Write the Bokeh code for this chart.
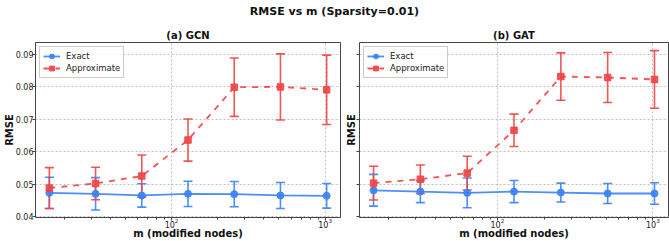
from bokeh.plotting import figure
from bokeh.layouts import column, row
from bokeh.models import (ColumnDataSource, Whisker, TeeHead, FixedTicker,
                          PrintfTickFormatter, CustomJSTickFormatter, Legend,
                          LegendItem, Range1d, Div)
from bokeh.embed import file_html
from bokeh.resources import INLINE

# Number of modified nodes
m_values = [16, 32, 64, 128, 256, 512, 1024]

# GCN results
gcn_exact_mean = [0.0473, 0.0470, 0.0465, 0.0470, 0.0469, 0.0465, 0.0464]
gcn_exact_std = [0.0048, 0.0050, 0.0036, 0.0039, 0.0039, 0.0040, 0.0038]
gcn_approx_mean = [0.0488, 0.0502, 0.0525, 0.0636, 0.0799, 0.0800, 0.0791]
gcn_approx_std = [0.0063, 0.0050, 0.0065, 0.0065, 0.0090, 0.0102, 0.0107]

# GAT results
gat_exact_mean = [0.0481, 0.0477, 0.0473, 0.0477, 0.0474, 0.0471, 0.0471]
gat_exact_std = [0.0049, 0.0034, 0.0046, 0.0034, 0.0029, 0.0031, 0.0033]
gat_approx_mean = [0.0503, 0.0515, 0.0534, 0.0666, 0.0832, 0.0829, 0.0823]
gat_approx_std = [0.0052, 0.0044, 0.0052, 0.0050, 0.0073, 0.0077, 0.0089]

y_ticks = [0.04, 0.05, 0.06, 0.07, 0.08, 0.09]
x_ticks = [100, 1000]
x_minor = [20, 30, 40, 50, 60, 70, 80, 90, 200, 300, 400, 500, 600, 700, 800, 900]

BLUE = "#3b82f6"
RED = "#ef4444"
FONT = "DejaVu Sans"


def make_panel(title, exact_mean, exact_std, approx_mean, approx_std,
               width, border_left, border_right, show_labels):
    p = figure(width=width, height=215, x_axis_type="log",
               x_range=Range1d(13.0, 1260.0), y_range=Range1d(0.0397, 0.0937),
               output_backend="svg", toolbar_location=None,
               min_border_left=border_left, min_border_right=border_right,
               min_border_top=0, min_border_bottom=0)
    p.title.text = title
    p.title.align = "center"
    p.title.text_font = FONT
    p.title.text_font_size = "10px"
    p.title.text_font_style = "bold"
    p.title.text_color = "#111111"
    p.title.standoff = 3

    p.outline_line_color = "#444444"
    p.outline_line_width = 1

    for ax in (p.xaxis[0], p.yaxis[0]):
        ax.axis_line_color = None
        ax.major_tick_line_color = "#444444"
        ax.minor_tick_line_color = "#444444"
        ax.major_tick_in = 0
        ax.major_tick_out = 3
        ax.minor_tick_in = 0
        ax.major_label_text_font = FONT
        ax.major_label_text_font_size = "8px"
        ax.major_label_text_color = "#222222"
        ax.axis_label_text_font = FONT
        ax.axis_label_text_font_size = "10px"
        ax.axis_label_text_font_style = "bold"
        ax.axis_label_text_color = "#111111"

    p.xaxis.ticker = FixedTicker(ticks=x_ticks, minor_ticks=x_minor)
    p.xaxis.minor_tick_out = 2
    p.xaxis.axis_label = "m (modified nodes)"
    p.xaxis.axis_label_standoff = -3
    p.xaxis.major_label_standoff = -3

    p.yaxis.ticker = FixedTicker(ticks=y_ticks, minor_ticks=[])
    p.yaxis.axis_label = "RMSE"
    if show_labels:
        p.yaxis.formatter = PrintfTickFormatter(format="%.2f")
        p.yaxis.major_label_standoff = -1
        p.yaxis.axis_label_standoff = -2
    else:
        # shared y scale: tick marks only, no numbers
        p.yaxis.formatter = CustomJSTickFormatter(code="return ''")
        p.yaxis.major_label_standoff = 0
        p.yaxis.axis_label_standoff = 0

    p.grid.grid_line_color = "#b0b0b0"
    p.grid.grid_line_dash = "2 2"
    p.grid.grid_line_alpha = 0.8
    p.grid.grid_line_width = 1

    items = []
    for mean, std, color, marker, size, dash, label in (
            (exact_mean, exact_std, BLUE, "circle", 7, "solid", "Exact"),
            (approx_mean, approx_std, RED, "square", 6.5, "dashed", "Approximate")):
        src = ColumnDataSource(dict(
            x=m_values, y=mean,
            lower=[v - s for v, s in zip(mean, std)],
            upper=[v + s for v, s in zip(mean, std)]))
        whisk = Whisker(source=src, base="x", lower="lower", upper="upper",
                        dimension="height", line_color=color, line_width=1.6,
                        line_alpha=0.9,
                        upper_head=TeeHead(size=9, line_color=color, line_width=1.6, line_alpha=0.9),
                        lower_head=TeeHead(size=9, line_color=color, line_width=1.6, line_alpha=0.9))
        p.add_layout(whisk)
        ln = p.line("x", "y", source=src, line_color=color, line_width=1.8,
                    line_dash=dash, line_alpha=0.9)
        mk = p.scatter("x", "y", source=src, marker=marker, size=size,
                       fill_color=color, line_color=color, alpha=0.9)
        # vertical error-bar stroke used by the legend glyph (placed off-range)
        bar_src = ColumnDataSource(dict(x=[0.001], y=[0.0]))
        bar = p.scatter("x", "y", source=bar_src, marker="dash", angle=1.5708,
                        size=11, line_color=color, line_width=1.6, line_alpha=0.9)
        items.append(LegendItem(label=label, renderers=[ln, bar, mk]))

    legend = Legend(items=items, location="top_left",
                    label_text_font=FONT, label_text_font_size="8.5px",
                    label_text_color="#222222",
                    glyph_width=17, glyph_height=12, label_height=12,
                    label_standoff=6, spacing=0, padding=3, margin=4,
                    border_line_color="#cccccc", border_line_alpha=1,
                    background_fill_alpha=0.85)
    p.add_layout(legend)
    return p


left = make_panel("(a) GCN", gcn_exact_mean, gcn_exact_std,
                  gcn_approx_mean, gcn_approx_std,
                  width=342, border_left=34, border_right=2, show_labels=True)
right = make_panel("(b) GAT", gat_exact_mean, gat_exact_std,
                   gat_approx_mean, gat_approx_std,
                   width=327, border_left=16, border_right=1, show_labels=False)

header = Div(text="<div style='width:669px;text-align:center;font-family:DejaVu Sans;"
                  "font-weight:bold;font-size:11px;color:#111;line-height:24px'>"
                  "RMSE vs m (Sparsity=0.01)</div>",
             width=669, height=26, margin=0)

layout = column(header, row(left, right, spacing=0), spacing=0)

open("out.html", "w").write(file_html(layout, INLINE))
